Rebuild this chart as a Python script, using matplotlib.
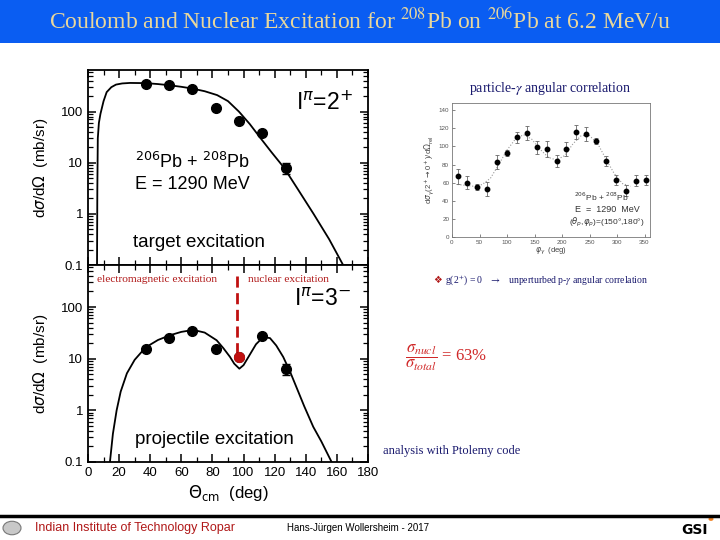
"""Slide: Coulomb and nuclear excitation for 208Pb on 206Pb."""
import matplotlib
matplotlib.use("Agg")
import matplotlib.pyplot as plt
from matplotlib.patches import Rectangle, Circle
from matplotlib.lines import Line2D

plt.rcParams.update({
    "font.family": "sans-serif",
    "font.sans-serif": ["Liberation Sans", "DejaVu Sans"],
    "font.size": 9,
})

# --- upper panel: target excitation 2+ ---
theta_pts = [37, 52, 67, 82, 97, 112, 127]
target_pts = [352, 328, 275, 120, 64, 38, 8.0]
target_err_lo = [0, 0, 0, 0, 0, 0, 2.0]
target_err_hi = [0, 0, 0, 0, 0, 0, 2.0]

theta_target_fit = [5.8, 6.0, 6.3, 7, 8, 10, 12, 15, 18, 22, 27, 37, 45, 52, 60, 67,
                    75, 83, 90, 97, 104, 111, 118, 126, 135, 145, 155, 164]
target_fit = [0.1, 3, 30, 60, 90, 160, 240, 300, 337, 355, 363, 360, 345, 328, 305, 282,
              250, 210, 160, 100, 57, 30, 16, 8, 3, 1, 0.32, 0.1]

# --- lower panel: projectile excitation 3- ---
proj_pts = [15.7, 25, 34, 15.7, 10.8, 27.5, 6.4]
proj_err_lo = [0, 0, 0, 0, 0, 0, 1.6]
proj_err_hi = [0, 0, 0, 0, 0, 0, 1.6]

theta_proj_fit = [14.1, 16, 18.4, 21, 25, 30, 37, 45, 52.7, 60, 67.7, 75, 82.7, 87, 91.3,
                  94, 97.3, 100, 104.4, 108, 112.7, 117, 121, 125.5, 130, 134, 139, 144.8,
                  150, 156.6]
proj_fit = [0.1, 0.35, 1, 2.3, 5.2, 9.5, 16.5, 23, 28.4, 33, 36, 32, 22.7, 16, 10.8,
            8, 6.4, 7.5, 12.5, 19, 26.3, 25, 18, 10.8, 5.5, 2.8, 1.2, 0.48, 0.25, 0.1]

# --- inset: particle-gamma angular correlation ---
phi_pts = [10, 28, 46, 64, 82, 100, 118, 136, 154, 172, 190, 208, 226, 244, 262, 280,
           298, 316, 334, 352]
corr_pts = [67, 60, 55, 53, 83, 93, 110, 115, 99, 97, 84, 97, 116, 114, 106, 84,
            63, 51, 62, 63]
corr_err = [8, 7, 3, 8, 8, 3, 6, 8, 7, 9, 7, 8, 8, 8, 3, 6, 6, 6, 6, 6]

phi_fit = [10, 25, 40, 55, 70, 85, 100, 115, 130, 145, 160, 175, 190, 205, 220, 235,
           250, 265, 280, 295, 310, 325]
corr_fit = [58, 57, 56, 58, 65, 80, 96, 108, 113, 108, 97, 88, 85, 90, 103, 112,
            112, 103, 86, 70, 59, 56]

W, H = 720, 540
NAVY = "#1A1A6E"
DARKRED = "#B01818"


def px(x, y):
    return x / W, 1 - y / H


fig = plt.figure(figsize=(7.2, 5.4), dpi=100)
fig.patch.set_facecolor("white")

# title bar
fig.patches.append(Rectangle((0, 1 - 43 / H), 1, 43 / H, transform=fig.transFigure,
                             facecolor="#0A5DF2", edgecolor="none", zorder=0))
fig.text(*px(360, 21), r"Coulomb and Nuclear Excitation for $^{\mathrm{208}}$Pb on "
         r"$^{\mathrm{206}}$Pb at 6.2 MeV/u", ha="center", va="center", fontsize=17,
         family="Liberation Serif", math_fontfamily="stix", color="#E9D79C")


def style_log_axes(ax):
    ax.set_xlim(0, 180)
    ax.set_ylim(0.1, 650)
    ax.set_yscale("log")
    ax.set_xticks(range(0, 181, 20))
    ax.set_xticks(range(0, 181, 10), minor=True)
    ax.set_yticks([0.1, 1, 10, 100])
    ax.set_yticklabels(["0.1", "1", "10", "100"])
    ax.tick_params(which="both", direction="in", top=True, right=True, labelsize=9.5)
    ax.tick_params(which="major", length=6, width=1.1)
    ax.tick_params(which="minor", length=3.5, width=0.9)
    for s in ax.spines.values():
        s.set_linewidth(1.3)
    ax.set_ylabel(r"d$\sigma$/d$\Omega$  (mb/sr)", fontsize=11, labelpad=8)


# upper axes
ax1 = fig.add_axes([88 / W, 1 - 265 / H, 280 / W, 195 / H])
style_log_axes(ax1)
ax1.tick_params(labelbottom=False)
ax1.plot(theta_target_fit, target_fit, color="black", lw=1.3)
ax1.errorbar(theta_pts, target_pts, yerr=[target_err_lo, target_err_hi], fmt="o",
             color="black", ms=7, capsize=3, elinewidth=1)
ax1.text(152, 145, r"I$^{\pi}$=2$^{+}$", fontsize=16.5, ha="center", va="center")
ax1.text(30, 10.5, r"$^{206}$Pb + $^{208}$Pb", fontsize=13, va="center")
ax1.text(30, 3.8, "E = 1290 MeV", fontsize=13, va="center")
ax1.text(29, 0.27, "target excitation", fontsize=13.5, va="center")

# lower axes
ax2 = fig.add_axes([88 / W, 1 - 462 / H, 280 / W, 197 / H])
style_log_axes(ax2)
ax2.plot(theta_proj_fit, proj_fit, color="black", lw=1.3)
ax2.errorbar(theta_pts, proj_pts, yerr=[proj_err_lo, proj_err_hi], fmt="o",
             color="black", ms=7, capsize=3, elinewidth=1)
ax2.plot(theta_pts[4], proj_pts[4], "o", color="#C01010", ms=7, zorder=5)
ax2.plot([96, 96], [400, 12], color="#C01010", lw=2, ls=(0, (4, 2)))
ax2.text(151, 140, r"I$^{\pi}$=3$^{-}$", fontsize=16.5, ha="center", va="center")
ax2.text(30, 0.27, "projectile excitation", fontsize=13.5, va="center")
ax2.set_xlabel(r"$\Theta_{\rm cm}$  (deg)", fontsize=12, labelpad=3)

fig.text(*px(97, 279), "electromagnetic excitation", fontsize=8.2, color=DARKRED,
         family="Liberation Serif", va="center")
fig.text(*px(248, 279), "nuclear excitation", fontsize=8.2, color=DARKRED,
         family="Liberation Serif", va="center")

# inset angular correlation
ax3 = fig.add_axes([452 / W, 1 - 237 / H, 198 / W, 134 / H])
ax3.set_xlim(0, 360)
ax3.set_ylim(0, 148)
ax3.set_xticks(range(0, 351, 50))
ax3.set_yticks(range(0, 141, 20))
ax3.tick_params(direction="in", labelsize=4.5, labelcolor="#555555", length=2,
                width=0.5, color="#555555", pad=2)
for s in ax3.spines.values():
    s.set_linewidth(0.6)
    s.set_color("#777777")
ax3.plot(phi_fit, corr_fit, color="#9A9A9A", lw=0.8, ls=":")
ax3.errorbar(phi_pts, corr_pts, yerr=corr_err, fmt="o", color="black", ms=3.2,
             ecolor="#666666", elinewidth=0.6, capsize=1.5, capthick=0.6)
ax3.set_xlabel(r"$\varphi_\gamma$  (deg)", fontsize=5.5, color="#444444", labelpad=1)
ax3.set_ylabel(r"d$\sigma_\gamma$(2$^+\!\to$0$^+$)/d$\Omega_{\rm rel}$", fontsize=5.5,
               color="#444444", labelpad=2)
ax3.text(272, 44, r"$^{206}$Pb + $^{208}$Pb", fontsize=6, ha="center", va="center",
         color="#333333")
ax3.text(282, 30, "E  =  1290  MeV", fontsize=6.5, ha="center", va="center",
         color="#333333")
ax3.text(282, 16, r"($\theta_p$,$\varphi_p$)=(150°,180°)", fontsize=6, ha="center",
         va="center", color="#333333")

fig.text(*px(550, 89), r"particle-$\gamma$ angular correlation", fontsize=10, color=NAVY,
         family="Liberation Serif", math_fontfamily="stix", ha="center", va="center")
fig.text(*px(433, 280), "❖", fontsize=7, color=DARKRED, va="center",
         family=["DejaVu Sans"])
fig.text(*px(445, 280), r"g(2$^{+}$) = 0   $\rightarrow$   unperturbed p-$\gamma$ angular correlation",
         fontsize=7, color=NAVY, family="Liberation Serif", math_fontfamily="stix",
         va="center")

fig.text(*px(405, 358), r"$\dfrac{\sigma_{nucl}}{\sigma_{total}}$ = 63%", fontsize=12,
         color="#D02828", family="Liberation Serif", math_fontfamily="stix", va="center")
fig.text(*px(383, 451), "analysis with Ptolemy code", fontsize=9, color=NAVY,
         family="Liberation Serif", va="center")

# footer
fig.lines.append(Line2D([0, 1], [1 - 516 / H, 1 - 516 / H], transform=fig.transFigure,
                        color="black", lw=2.5))
fig.patches.append(Circle(px(12, 528), 9 / W, transform=fig.transFigure,
                          facecolor="#C8C8C8", edgecolor="#777777", lw=0.8))
fig.text(*px(35, 528), "Indian Institute of Technology Ropar", fontsize=9,
         color=DARKRED, va="center")
fig.text(*px(287, 528), "Hans-Jürgen Wollersheim - 2017", fontsize=7, va="center")
fig.text(*px(694, 530), "GSI", fontsize=10, fontweight="bold", ha="center",
         va="center", family="DejaVu Sans")
fig.patches.append(Circle(px(711, 519), 2.5 / W, transform=fig.transFigure,
                          facecolor="#F08020", edgecolor="none"))

fig.savefig("out.png", dpi=100, facecolor="white")
plt.close(fig)
print("Saved: out.png")
